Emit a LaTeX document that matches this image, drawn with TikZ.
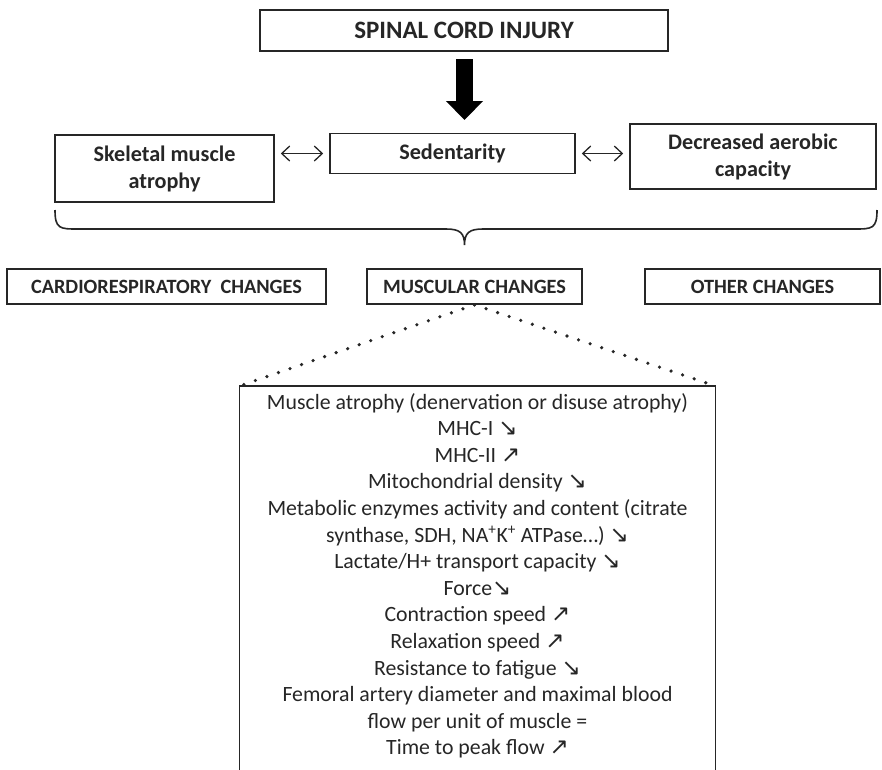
\documentclass[tikz,border=0pt]{standalone}
\usepackage{fontspec}
\setmainfont{Carlito}
\newfontfamily\symfont{DejaVu Sans}
\usetikzlibrary{arrows.meta}
\definecolor{ink}{HTML}{262626}
\newcommand{\dn}{{\symfont\fontsize{23pt}{23pt}\selectfont ↘}}
\newcommand{\up}{{\symfont\fontsize{23pt}{23pt}\selectfont ↗}}
\begin{document}
\begin{tikzpicture}[x=1pt,y=-1pt,
  box/.style={draw=ink,line width=1.6pt,inner sep=0pt,align=center,text=ink,
    font=\fontsize{22.2pt}{27pt}\selectfont\bfseries},
  rowbox/.style={box,font=\fontsize{20.3pt}{24pt}\selectfont\bfseries},
  dbl/.style={{Straight Barb[length=8pt,width=15pt]}-{Straight Barb[length=8pt,width=15pt]},line width=1.3pt,draw=ink,shorten <=6pt,shorten >=6pt},
  dotline/.style={draw=ink,line width=3.6pt,line cap=round,dash pattern=on 0pt off 12.2pt}
]
\useasboundingbox (0,0) rectangle (882,769);
\node[box,minimum width=408pt,minimum height=41pt,font=\fontsize{25pt}{30pt}\selectfont\bfseries] (top) at (464,30.5) {SPINAL CORD INJURY};
\node[box,minimum width=219pt,minimum height=67pt] (skel) at (164.5,168.5) {Skeletal muscle\\atrophy};
\node[box,minimum width=245pt,minimum height=40pt] (sed) at (452.5,153.5) {Sedentarity};
\node[box,minimum width=246pt,minimum height=65pt] (dec) at (753,156.5) {Decreased aerobic\\capacity};
\node[rowbox,minimum width=319pt,minimum height=35pt] (cardio) at (166.5,286.5) {CARDIORESPIRATORY\ \ CHANGES};
\node[rowbox,minimum width=215pt,minimum height=35pt] (musc) at (474.5,286.5) {MUSCULAR CHANGES};
\node[rowbox,minimum width=235pt,minimum height=35pt] (other) at (762.5,286.5) {OTHER CHANGES};
% thick arrow
\coordinate (a0) at (464.5,59);
\coordinate (a1) at (464.5,120);
\draw[line width=17pt,draw=black,-{Triangle[width=36pt,length=19pt]}] (a0) -- (a1);
% double arrows
\draw[dbl] (skel.east |- sed.west) -- (sed.west);
\draw[dbl] (sed.east) -- (dec.west |- sed.east);
% brace
\coordinate (bl) at (55,210);
\coordinate (br) at (877,210);
\coordinate (bt) at (464.5,245);
\draw[ink,line width=1.6pt] (bl) .. controls (55,229) and (60,229) .. (78,229) -- (446,229)
  .. controls (460,229) and (464.5,233) .. (bt) .. controls (464.5,233) and (469,229) .. (483,229)
  -- (854,229) .. controls (872,229) and (877,229) .. (br);
% lower box
\coordinate (lbl) at (239.5,386);
\coordinate (lbr) at (715.5,386);
\draw[ink,line width=1.6pt] (239.5,790) -- (lbl) -- (lbr) -- (715.5,790);
\draw[dotline] (musc.south) -- (lbl);
\draw[dotline] (musc.south) -- (lbr);
\node[anchor=north,inner sep=0pt,align=center,text=ink,font=\fontsize{21.8pt}{26.6pt}\selectfont] (list) at (477.5,393) {%
Muscle atrophy (denervation or disuse atrophy)\\
MHC-I \dn\\
MHC-II \up\\
Mitochondrial density \dn\\
Metabolic enzymes activity and content (citrate\\
synthase, SDH, NA\textsuperscript{+}K\textsuperscript{+} ATPase…) \dn\\
Lactate/H+ transport capacity \dn\\
Force\dn\\
Contraction speed \up\\
Relaxation speed \up\\
Resistance to fatigue \dn\\
Femoral artery diameter and maximal blood\\
flow per unit of muscle =\\
Time to peak flow \up};
\end{tikzpicture}
\end{document}
